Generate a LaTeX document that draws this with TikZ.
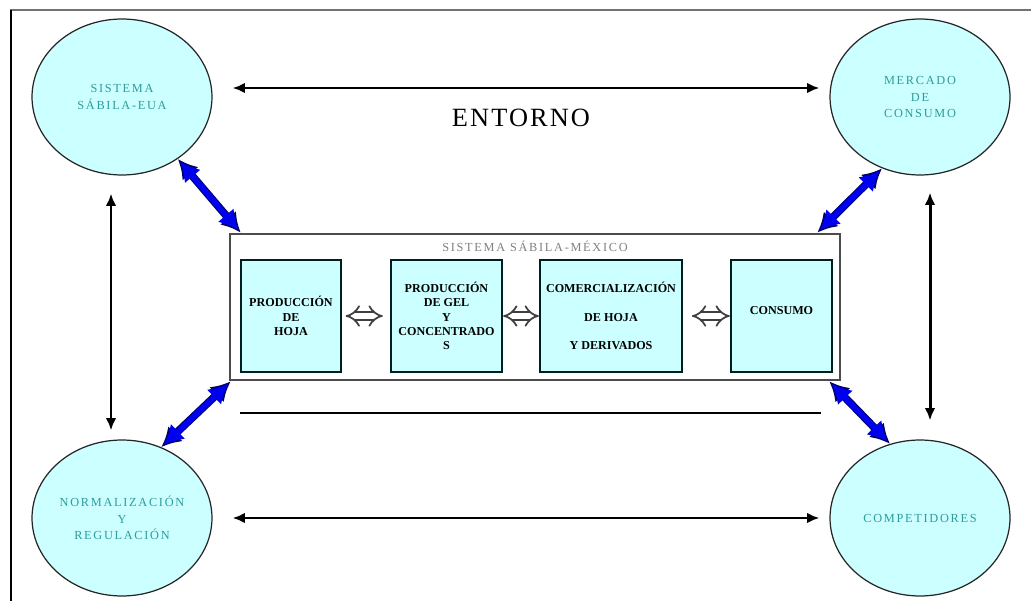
\documentclass[tikz,border=0pt]{standalone}
\usepackage{fontspec}
\setmainfont{Liberation Serif}
\newfontfamily\spacedfont[LetterSpace=14]{Liberation Serif}
\newfontfamily\widefont[LetterSpace=8]{Liberation Serif}
\usetikzlibrary{shapes.geometric,arrows.meta}
\definecolor{aqua}{HTML}{CCFFFF}
\definecolor{tealtext}{HTML}{2E9C9C}
\definecolor{blueline}{HTML}{0000F0}
\begin{document}
\begin{tikzpicture}[x=0.02cm, y=-0.02cm,
			actor/.style = {shape=ellipse, draw=black!85, line width=0.7pt, fill=aqua,
				minimum width=3.6cm, minimum height=3.12cm, inner sep=0pt, align=center,
				text=tealtext, font=\spacedfont\fontsize{7}{9.4}\selectfont},
			stage/.style = {shape=rectangle, draw=black!75!teal, line width=1.3pt, fill=aqua,
				minimum height=2.24cm, inner sep=1pt, align=center,
				font=\bfseries\fontsize{6.9}{8.1}\selectfont},
			link/.style = {line width=1.7pt, {Latex[length=7pt,width=6pt]}-{Latex[length=7pt,width=6pt]}},
			bluelink/.style = {draw=black!60!blue, line width=4.4pt, {Latex[length=11pt,width=12pt]}-{Latex[length=11pt,width=12pt]},
				postaction={draw=blueline, line width=3.2pt, shorten <=2pt, shorten >=2pt}},
			hollow/.style = {double=white, double distance=3.2pt, line width=1pt, draw=black!75, {Implies}-{Implies}}]

			\useasboundingbox (0,0) rectangle (1031,601);
			% frame
			\draw[black!55, line width=1.6pt] (10,10) -- (1031,10);
			\draw[black, line width=0.6pt] (11,10) -- (11,601);

			% environment
			\node[actor] (eua) at (122,97) {SISTEMA\\S\'ABILA-EUA};
			\node[actor] (mercado) at (920,97) {MERCADO\\DE\\CONSUMO};
			\node[actor] (norma) at (122,518) {NORMALIZACI\'ON\\Y\\REGULACI\'ON};
			\node[actor] (compet) at (920,518) {COMPETIDORES};
			\node[font=\widefont\fontsize{15}{18}\selectfont] (entorno) at (521,118) {ENTORNO};

			% system box
			\node[draw=black!70, line width=1.5pt, minimum width=12.2cm, minimum height=2.92cm] (mexico) at (535,307) {};
			\node[text=black!50, font=\spacedfont\fontsize{7}{8}\selectfont] (titulo) at (535,246) {SISTEMA S\'ABILA-M\'EXICO};
			\node[stage, minimum width=2cm] (hoja) at (291,316) {PRODUCCI\'ON\\DE\\HOJA};
			\node[stage, minimum width=2.22cm] (gel) at (446.5,316) {PRODUCCI\'ON\\DE GEL\\Y\\CONCENTRADO\\S};
			\node[stage, minimum width=2.84cm] (comercio) at (611,316) {COMERCIALIZACI\'ON\\[8pt]DE HOJA\\[8pt]Y DERIVADOS};
			\node[stage, minimum width=2.02cm] (consumo) at (781.5,316) {\raisebox{6pt}{CONSUMO}};
			\coordinate (raya1) at (240,413);
			\coordinate (raya2) at (821,413);
			\draw[line width=0.8pt] (raya1) -- (raya2);

			% flows inside
			\draw[hollow, shorten <=2pt, shorten >=4pt] (hoja) -- (gel);
			\draw[hollow] (gel) -- (comercio);
			\draw[hollow, shorten <=5pt] (comercio) -- (consumo);

			% black arrows
			\draw[link, shorten <=0.4cm, shorten >=0.2cm] ([yshift=0.18cm]eua.east) -- ([yshift=0.18cm]mercado.west);
			\draw[link, shorten <=0.4cm, shorten >=0.2cm] (norma.east) -- (compet.west);
			\draw[link, shorten <=0.36cm, shorten >=0.18cm] ([xshift=-0.22cm]eua.south) -- ([xshift=-0.22cm]norma.north);
			\draw[link, shorten <=0.34cm, shorten >=0.38cm] ([xshift=0.2cm]mercado.south) -- ([xshift=0.2cm]compet.north);

			% blue arrows
			\draw[bluelink] (eua.-48) -- ([xshift=0.24cm]mexico.north west);
			\draw[bluelink] (mercado.-118) -- ([xshift=-0.48cm]mexico.north east);
			\draw[bluelink] ([xshift=0.04cm]mexico.south west) -- (norma.61);
			\draw[bluelink] ([xshift=-0.24cm]mexico.south east) -- (compet.112);
\end{tikzpicture}
\end{document}
